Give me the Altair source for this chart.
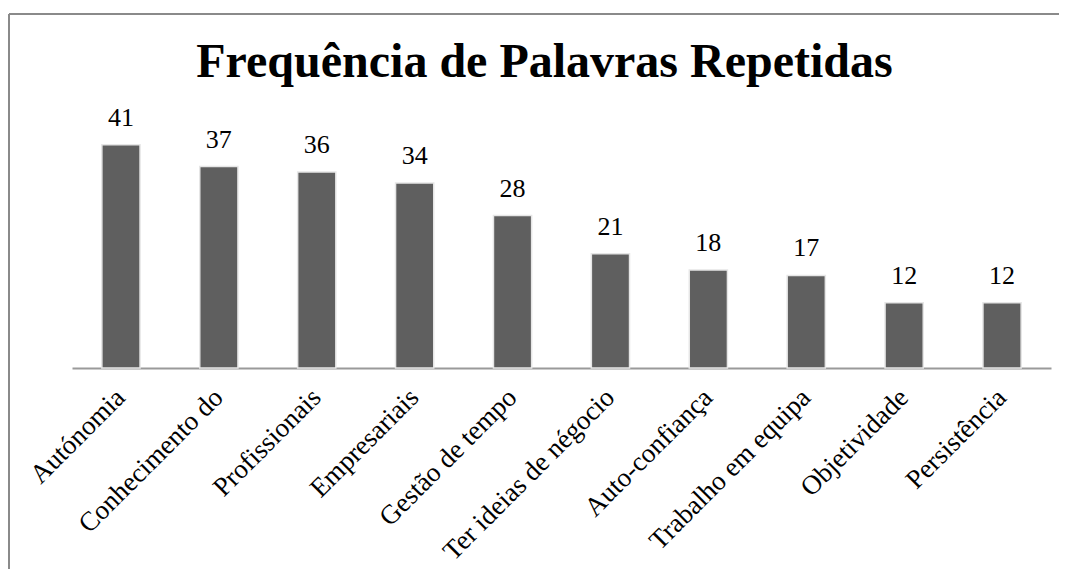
import altair as alt
import pandas as pd

categories = ["Autónomia", "Conhecimento do", "Profissionais", "Empresariais",
              "Gestão de tempo", "Ter ideias de négocio", "Auto-confiança",
              "Trabalho em equipa", "Objetividade", "Persistência"]
values = [41, 37, 36, 34, 28, 21, 18, 17, 12, 12]
title_text = ["Frequência de Palavras Repetidas"]

df = pd.DataFrame({"cat": categories, "val": values})

FONT = "Liberation Serif"
W, H = 979, 245
PL, PT, PR, PB = 64, 115, 8, 201

x_enc = alt.X("cat:N", sort=categories,
              scale=alt.Scale(paddingInner=0.61, paddingOuter=0.305),
              axis=alt.Axis(title=None, labelAngle=-45, labelFont=FONT,
                            labelFontSize=27, labelColor="#000000", ticks=False,
                            domainColor="#9a9a9a", domainWidth=2, labelLimit=0,
                            labelPadding=25, labelAlign="right", labelBaseline="middle"))
y_enc = alt.Y("val:Q", scale=alt.Scale(domain=[0, 45], nice=False), axis=None)

base = alt.Chart(df)

bars = base.mark_bar(color="#5f5f5f", stroke="#e6e6e6", strokeWidth=1.5).encode(
    x=x_enc, y=y_enc)

labels = base.mark_text(font=FONT, fontSize=26, color="#000000",
                        baseline="alphabetic", dy=-19).encode(
    x=alt.X("cat:N", sort=categories), y="val:Q", text="val:Q")

title = alt.Chart(pd.DataFrame({"t": title_text})).mark_text(
    font=FONT, fontSize=48, fontWeight="bold", color="#000000",
    align="center", baseline="alphabetic").encode(
    x=alt.value(472.5), y=alt.value(-46), text="t:N")

frame_top = alt.Chart(pd.DataFrame({"a": [0]})).mark_rule(
    color="#8a8a8a", strokeWidth=2).encode(
    x=alt.value(-63), x2=alt.value(W + PR), y=alt.value(-109))
frame_left = alt.Chart(pd.DataFrame({"a": [0]})).mark_rule(
    color="#8a8a8a", strokeWidth=2).encode(
    x=alt.value(-63), y=alt.value(-109), y2=alt.value(H + PB))

chart = alt.layer(frame_top, frame_left, bars, labels, title).properties(
    width=W, height=H,
    autosize=alt.AutoSizeParams(type="none"),
    padding={"left": PL, "top": PT, "right": PR, "bottom": PB},
).configure(background="white").configure_view(stroke=None)

chart.save("out.html", embed_options={"renderer": "svg", "actions": False})
